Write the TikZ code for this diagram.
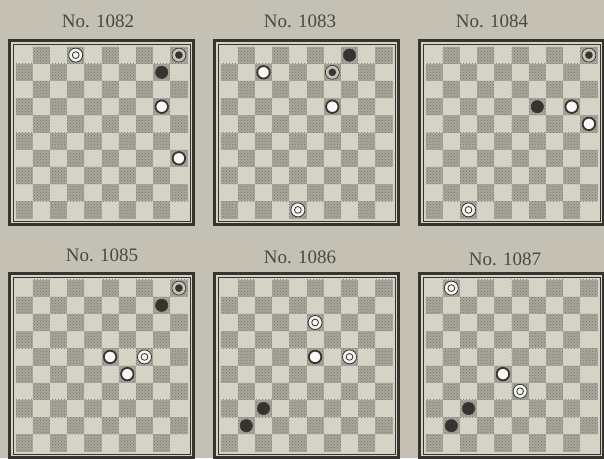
\documentclass[tikz,border=0pt]{standalone}
\usepackage{fontspec}
\setmainfont{Liberation Serif}
\usetikzlibrary{patterns}
\definecolor{bg}{HTML}{C4C1B4}
\definecolor{lightsq}{HTML}{D5D2C6}
\definecolor{darksq}{HTML}{A9A69C}
\definecolor{ink}{HTML}{35342F}
\tikzset{
  wman/.style={circle, draw=ink, line width=1.8pt, fill=white!85!lightsq, minimum size=12.5pt, inner sep=0pt},
  wking/.style={circle, draw=ink, line width=0.8pt, fill=white!75!lightsq, minimum size=14pt, inner sep=0pt,
    path picture={\draw[ink,line width=0.8pt] (path picture bounding box.center) circle (3.4pt);}},
  bman/.style={circle, fill=ink, draw=ink, minimum size=12.5pt, inner sep=0pt},
  bking/.style={circle, draw=ink, line width=0.7pt, fill=lightsq!80!gray, minimum size=14pt, inner sep=0pt,
    path picture={\fill[ink] (path picture bounding box.center) circle (3.8pt);}},
  lbl/.style={font=\fontsize{19}{22}\selectfont, text=ink!90},
  outerframe/.style={draw=ink, line width=2.8pt},
  innerframe/.style={draw=ink, line width=0.8pt},
}
\newcommand\drawboard{%
  \fill[lightsq] (0,0) rectangle (187,187);
  \foreach \r in {0,...,9}{\foreach \c in {0,...,9}{%
    \pgfmathtruncatemacro\oddsq{mod(\r+\c,2)}%
    \ifnum\oddsq=1
      \fill[darksq] ({7.5+\c*17.2},{7.5+\r*17.2}) rectangle +(17.2,17.2);
      \fill[pattern=crosshatch dots, pattern color=darksq!70!black] ({7.5+\c*17.2},{7.5+\r*17.2}) rectangle +(17.2,17.2);
    \fi
  }}
  \draw[outerframe] (1.4,1.4) rectangle (185.6,185.6);
  \draw[innerframe] (5,5) rectangle (182,182);
}
\newcommand\pc[4]{\node[#1] (#2) at ({7.5+(#3+0.5)*17.2},{7.5+(#4+0.5)*17.2}) {};}
\begin{document}
\begin{tikzpicture}[x=1pt,y=-1pt]
\fill[bg] (0,0) rectangle (604,458);
\useasboundingbox (0,0) rectangle (604,458);

\node[lbl] (l1082) at (98,21) {No. 1082};
\node[lbl] (l1083) at (300,21) {No. 1083};
\node[lbl] (l1084) at (492,21) {No. 1084};
\node[lbl] (l1085) at (102,255) {No. 1085};
\node[lbl] (l1086) at (300,257) {No. 1086};
\node[lbl] (l1087) at (505,259) {No. 1087};

\begin{scope}[shift={(8,39)}]
  \drawboard
  \pc{wking}{a1}{3}{0}
  \pc{bking}{a2}{9}{0}
  \pc{bman}{a3}{8}{1}
  \pc{wman}{a4}{8}{3}
  \pc{wman}{a5}{9}{6}
\end{scope}

\begin{scope}[shift={(213,39)}]
  \drawboard
  \pc{bman}{b1}{7}{0}
  \pc{wman}{b2}{2}{1}
  \pc{bking}{b3}{6}{1}
  \pc{wman}{b4}{6}{3}
  \pc{wking}{b5}{4}{9}
\end{scope}

\begin{scope}[shift={(418,39)}]
  \drawboard
  \pc{bking}{c1}{9}{0}
  \pc{bman}{c2}{6}{3}
  \pc{wman}{c3}{8}{3}
  \pc{wman}{c4}{9}{4}
  \pc{wking}{c5}{2}{9}
\end{scope}

\begin{scope}[shift={(8,272)}]
  \drawboard
  \pc{bking}{d1}{9}{0}
  \pc{bman}{d2}{8}{1}
  \pc{wman}{d3}{5}{4}
  \pc{wking}{d4}{7}{4}
  \pc{wman}{d5}{6}{5}
\end{scope}

\begin{scope}[shift={(213,272)}]
  \drawboard
  \pc{wking}{e1}{5}{2}
  \pc{wman}{e2}{5}{4}
  \pc{wking}{e3}{7}{4}
  \pc{bman}{e4}{2}{7}
  \pc{bman}{e5}{1}{8}
\end{scope}

\begin{scope}[shift={(418,272)}]
  \drawboard
  \pc{wking}{f1}{1}{0}
  \pc{wman}{f2}{4}{5}
  \pc{wking}{f3}{5}{6}
  \pc{bman}{f4}{2}{7}
  \pc{bman}{f5}{1}{8}
\end{scope}
\end{tikzpicture}
\end{document}
